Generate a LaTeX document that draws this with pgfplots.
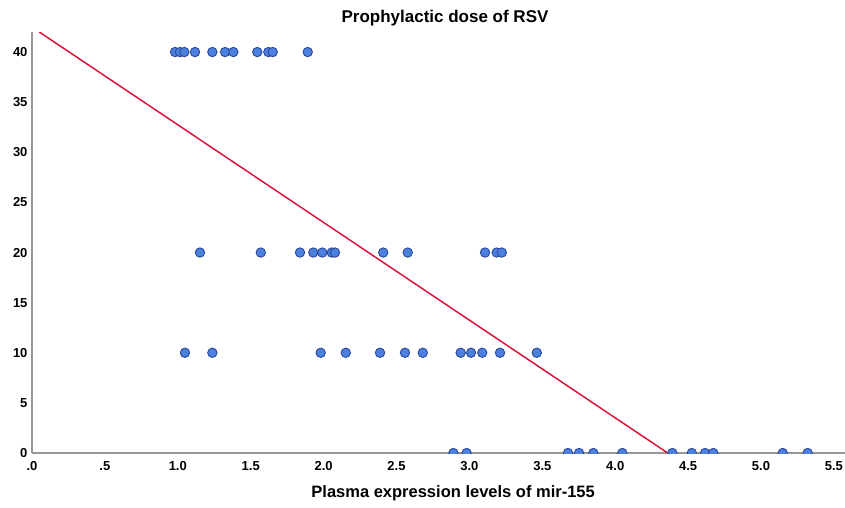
\documentclass[border=0pt]{standalone}
\usepackage{pgfplots}
\pgfplotsset{compat=1.18}
\usepackage{fontspec}
\setmainfont{Liberation Sans}

\definecolor{dotfill}{RGB}{76,128,222}
\definecolor{dotedge}{RGB}{42,72,155}
\definecolor{fitline}{RGB}{218,20,60}
\definecolor{axgray}{RGB}{150,150,150}

\begin{document}
\begin{tikzpicture}
\path[use as bounding box] (-32pt,-54pt) rectangle (813pt,453pt);
\begin{axis}[
  at={(0,0)}, anchor=south west,
  scale only axis, width=813pt, height=421pt,
  xmin=0, xmax=5.576, ymin=0, ymax=42,
  axis lines=left,
  axis line style={axgray, line width=1.3pt, -},
  major tick length=0pt,
  xtick={0,0.5,1,1.5,2,2.5,3,3.5,4,4.5,5,5.5},
  xticklabels={.0,.5,1.0,1.5,2.0,2.5,3.0,3.5,4.0,4.5,5.0,5.5},
  ytick={0,5,10,15,20,25,30,35,40},
  /pgf/number format/assume math mode=true,
  ticklabel style={font=\fontsize{13}{15}\selectfont\bfseries},
  xticklabel style={yshift=-5pt},
  yticklabel style={xshift=-1pt},
  clip marker paths=true,
  every axis title shift=0pt,
  title={Prophylactic dose of RSV},
  title style={font=\fontsize{17}{20}\selectfont\bfseries, at={(0.508,1.033)}, anchor=center},
  xlabel={Plasma expression levels of mir-155},
  xlabel style={font=\fontsize{16.5}{19}\selectfont\bfseries, at={(0.518,-0.095)}, anchor=center},
]
% regression line
\addplot[fitline, line width=1.5pt] coordinates {(0.05,42) (4.36,0)};
% data points
\addplot[only marks, mark=*, mark size=4.7pt,
  mark options={fill=dotfill, draw=dotedge, line width=0.9pt}] coordinates {
  (0.981,40) (1.015,40) (1.045,40) (1.118,40) (1.237,40) (1.324,40)
  (1.381,40) (1.545,40) (1.621,40) (1.651,40) (1.891,40)
  (1.152,20) (1.569,20) (1.838,20) (1.929,20) (1.991,20) (2.056,20)
  (2.078,20) (2.409,20) (2.577,20) (3.107,20) (3.187,20) (3.222,20)
  (1.049,10) (1.237,10) (1.980,10) (2.152,10) (2.387,10) (2.558,10)
  (2.680,10) (2.940,10) (3.011,10) (3.088,10) (3.210,10) (3.462,10)
  (2.890,0) (2.981,0) (3.676,0) (3.752,0) (3.850,0) (4.049,0)
  (4.392,0) (4.525,0) (4.616,0) (4.673,0) (5.149,0) (5.320,0)
};
\end{axis}
\end{tikzpicture}
\end{document}
